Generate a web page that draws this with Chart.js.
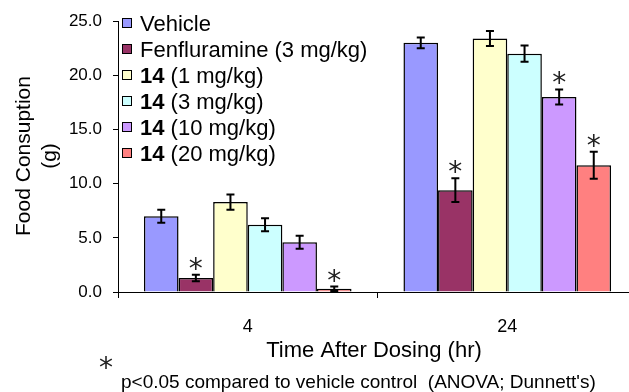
<!DOCTYPE html>
<html>
<head>
<meta charset="utf-8">
<script src="https://cdn.jsdelivr.net/npm/chart.js@4.4.1/dist/chart.umd.min.js"></script>
<style>
  html, body { margin: 0; padding: 0; background: #fff; overflow: hidden; }
  #wrap { width: 640px; height: 392px; }
</style>
</head>
<body>
<div id="wrap"><canvas id="chart" width="640" height="392"></canvas></div>
<script>
// time points (hr)
const timePoints = ["4", "24"];

// legend text: bold part + normal part
const groupBold = ["", "", "14", "14", "14", "14"];
const groupText = ["Vehicle", "Fenfluramine (3 mg/kg)", " (1 mg/kg)", " (3 mg/kg)", " (10 mg/kg)", " (20 mg/kg)"];
const groupColors = ["#9999ff", "#993366", "#ffffcc", "#ccffff", "#cc99ff", "#ff8080"];

// food consumption (g) at 4 and 24 hr
const vehicle      = [7.0, 23.0];
const fenfluramine = [1.3, 9.4];
const cmpd14_1     = [8.3, 23.4];
const cmpd14_3     = [6.2, 22.0];
const cmpd14_10    = [4.6, 18.0];
const cmpd14_20    = [0.3, 11.7];

// error bars (+/-)
const vehicleErr      = [0.6, 0.5];
const fenfluramineErr = [0.3, 1.1];
const cmpd14_1Err     = [0.7, 0.7];
const cmpd14_3Err     = [0.6, 0.75];
const cmpd14_10Err    = [0.6, 0.7];
const cmpd14_20Err    = [0.2, 1.25];

// p<0.05 markers
const vehicleSig      = [false, false];
const fenfluramineSig = [true, true];
const cmpd14_1Sig     = [false, false];
const cmpd14_3Sig     = [false, false];
const cmpd14_10Sig    = [false, true];
const cmpd14_20Sig    = [true, true];

const yTicks = [0, 5, 10, 15, 20, 25];
const yTitle = ["Food Consuption", "(g)"];
const xTitle = "Time After Dosing (hr)";
const footnote = "p<0.05 compared to vehicle control  (ANOVA; Dunnett's)";

const seriesValues = [vehicle, fenfluramine, cmpd14_1, cmpd14_3, cmpd14_10, cmpd14_20];
const seriesErrors = [vehicleErr, fenfluramineErr, cmpd14_1Err, cmpd14_3Err, cmpd14_10Err, cmpd14_20Err];
const seriesSig = [vehicleSig, fenfluramineSig, cmpd14_1Sig, cmpd14_3Sig, cmpd14_10Sig, cmpd14_20Sig];

const FONT = "'Liberation Sans', Arial, sans-serif";

// draw an asterisk centred on (cx, cy)
function drawStar(ctx, cx, cy) {
    ctx.save();
    ctx.font = "28px 'DejaVu Sans', sans-serif";
    ctx.fillStyle = "#222";
    ctx.textAlign = "center";
    ctx.textBaseline = "alphabetic";
    const m = ctx.measureText("*");
    const mid = (m.actualBoundingBoxAscent - m.actualBoundingBoxDescent) / 2;
    ctx.fillText("*", cx, cy + mid);
    ctx.restore();
}

const extras = {
    id: "extras",
    afterDatasetsDraw(chart) {
        const ctx = chart.ctx;
        const y = chart.scales.y;
        ctx.save();
        ctx.strokeStyle = "#000";
        ctx.lineWidth = 2;
        seriesValues.forEach((vals, i) => {
            const meta = chart.getDatasetMeta(i);
            meta.data.forEach((bar, j) => {
                const top = y.getPixelForValue(vals[j] + seriesErrors[i][j]);
                const bot = y.getPixelForValue(Math.max(0, vals[j] - seriesErrors[i][j]));
                ctx.beginPath();
                ctx.moveTo(bar.x, top); ctx.lineTo(bar.x, bot);
                ctx.moveTo(bar.x - 4, top); ctx.lineTo(bar.x + 4, top);
                ctx.moveTo(bar.x - 4, bot); ctx.lineTo(bar.x + 4, bot);
                ctx.stroke();
                if (seriesSig[i][j]) drawStar(ctx, bar.x, top - 11);
            });
        });
        ctx.restore();
    },
    afterDraw(chart) {
        const ctx = chart.ctx;
        ctx.save();
        ctx.fillStyle = "#000";

        // legend
        groupText.forEach((t, i) => {
            const base = 31 + i * 26;
            ctx.fillStyle = groupColors[i];
            ctx.fillRect(122.5, base - 12.5, 9, 9);
            ctx.strokeStyle = "#000";
            ctx.lineWidth = 1;
            ctx.strokeRect(122.5, base - 12.5, 9, 9);
            ctx.fillStyle = "#000";
            ctx.textBaseline = "alphabetic";
            ctx.textAlign = "left";
            let x = 140;
            if (groupBold[i]) {
                ctx.font = "bold 22px " + FONT;
                ctx.fillText(groupBold[i], x, base);
                x += ctx.measureText(groupBold[i]).width;
            }
            ctx.font = "22px " + FONT;
            ctx.fillText(t, x, base);
        });

        // y title
        ctx.save();
        ctx.translate(24, 156);
        ctx.rotate(-Math.PI / 2);
        ctx.font = "21px " + FONT;
        ctx.textAlign = "center";
        ctx.textBaseline = "middle";
        ctx.fillText(yTitle[0], 0, 0);
        ctx.fillText(yTitle[1], 0, 26);
        ctx.restore();

        // x title
        ctx.font = "22px " + FONT;
        ctx.textAlign = "center";
        ctx.textBaseline = "alphabetic";
        ctx.fillText(xTitle, 374, 357);

        // footnote
        drawStar(ctx, 106, 363);
        ctx.font = "19px " + FONT;
        ctx.textAlign = "left";
        ctx.fillText(footnote, 121, 388);
        ctx.restore();
    }
};

new Chart(document.getElementById("chart"), {
    type: "bar",
    data: {
        labels: timePoints,
        datasets: seriesValues.map((vals, i) => ({
            label: groupBold[i] + groupText[i],
            data: vals,
            backgroundColor: groupColors[i],
            borderColor: "#000",
            borderWidth: 1.5,
            categoryPercentage: 0.8,
            barPercentage: 1.0
        }))
    },
    options: {
        responsive: false,
        animation: false,
        events: [],
        layout: { padding: { top: 20, left: 0, right: 3, bottom: 0 } },
        plugins: {
            legend: { display: false },
            tooltip: { enabled: false }
        },
        scales: {
            x: {
                afterFit: s => { s.height = 100; },
                grid: { display: true, drawOnChartArea: false, offset: true, tickLength: 6, color: "#000", lineWidth: 1 },
                border: { display: true, color: "#000", width: 1 },
                ticks: { color: "#000", font: { family: FONT, size: 18 }, padding: 18 }
            },
            y: {
                min: 0,
                max: 25,
                afterFit: s => { s.width = 118; },
                afterBuildTicks: s => { s.ticks = yTicks.map(v => ({ value: v })); },
                grid: { display: true, drawOnChartArea: false, tickLength: 5, color: "#000", lineWidth: 1 },
                border: { display: true, color: "#000", width: 1 },
                ticks: {
                    color: "#000",
                    font: { family: FONT, size: 17 },
                    padding: 11,
                    callback: v => Number(v).toFixed(1)
                }
            }
        }
    },
    plugins: [extras]
});
</script>
</body>
</html>
